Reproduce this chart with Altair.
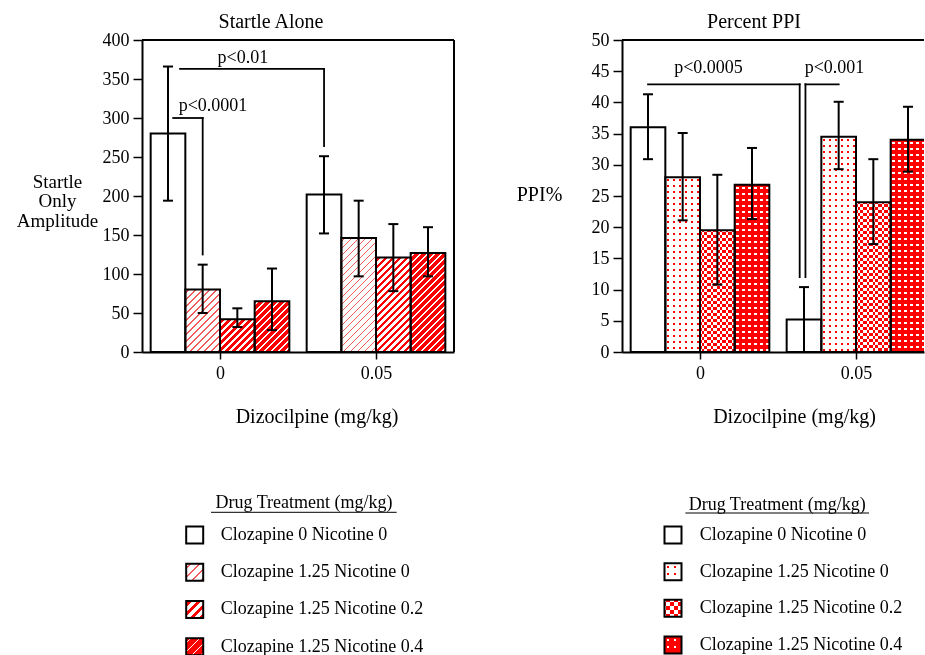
import altair as alt
import pandas as pd

FONT = "Liberation Serif"
RED = "#ff0000"
PINK = "#f25c5c"
WHITE = "#ffffff"
CLEAR = "rgba(255,255,255,0)"
CYAN = "#00ffff"

# ---------------- data ----------------
dose_labels = ["0", "0.05"]
treatments = [
    "Clozapine 0 Nicotine 0",
    "Clozapine 1.25 Nicotine 0",
    "Clozapine 1.25 Nicotine 0.2",
    "Clozapine 1.25 Nicotine 0.4",
]
legend_title = "Drug Treatment (mg/kg)"

# Startle alone (dizocilpine 0 then 0.05; four treatments each)
startle_mean = [280, 80, 42, 65, 202, 146, 121, 127]
startle_upper = [366, 112, 56, 107, 251, 194, 164, 160]
startle_lower = [194, 50, 32, 28, 152, 97, 78, 97]

# Percent PPI
ppi_mean = [36.0, 28.0, 19.5, 26.8, 5.2, 34.5, 24.0, 34.0]
ppi_upper = [41.3, 35.1, 28.4, 32.7, 10.4, 40.1, 30.9, 39.3]
ppi_lower = [30.9, 21.1, 10.8, 21.3, 0.0, 29.3, 17.3, 28.9]

# significance brackets (x in dose-group units, y in data units)
left_br_label = ["p<0.0001", "p<0.01"]
left_br_x_start = [-0.30, -0.256]
left_br_x_end = [-0.111, 0.667]
left_br_y = [300, 363]
left_br_drop_x = [-0.111, 0.667]
left_br_drop_y = [125, 264]
left_br_text_x = [-0.045, 0.147]
left_br_text_y = [315, 377]

right_br_label = ["p<0.0005", "p<0.001"]
right_br_x_start = [-0.333, 0.676]
right_br_x_end = [0.639, 0.889]
right_br_y = [42.9, 42.9]
right_br_drop_x = [0.639, 0.676]
right_br_drop_y = [12.0, 12.0]
right_br_text_x = [0.0545, 0.862]
right_br_text_y = [45.5, 45.5]

# ---------------- layout constants ----------------
PLOT_H = 312
LEFT_W = 312
RIGHT_W = 302
PX_PER_UNIT = 156.0
BAR_W = 2.0 / 9.0
CAP = 0.032
LEG_H = 175


# ---------------- pattern helpers ----------------
def stops(length, period, on, c_on, c_off, phase=None):
    if phase is None:
        phase = (period - on) / 2.0
    p = phase - period
    segs = []
    while p < length:
        segs.append((p, p + on, c_on))
        segs.append((p + on, p + period, c_off))
        p += period
    out = []
    for a, b, c in segs:
        a2, b2 = max(a, 0.0), min(b, length)
        if b2 <= a2:
            continue
        out.append(alt.GradientStop(offset=round(a2 / length, 4), color=c))
        out.append(alt.GradientStop(offset=round(b2 / length, 4), color=c))
    return out


def diag(w, h, period, on, c_on, c_off):
    k = (w + h) / (w * w + h * h)
    return alt.LinearGradient(gradient="linear", x1=0, y1=0, x2=round(k * w, 5), y2=round(k * h, 5),
                              stops=stops(w + h, period, on, c_on, c_off))


def rows(h, period, on, c_on, c_off):
    return alt.LinearGradient(gradient="linear", x1=0, y1=0, x2=0, y2=1,
                              stops=stops(h, period, on, c_on, c_off))


def cols(w, period, on, c_on, c_off):
    return alt.LinearGradient(gradient="linear", x1=0, y1=0, x2=1, y2=0,
                              stops=stops(w, period, on, c_on, c_off))


def left_pattern(k, w, h, leg=False):
    P = 9.0 if leg else 7.0
    if k == 1:
        return [(diag(w, h, P, 1.8, PINK, WHITE), None)]
    if k == 2:
        return [(diag(w, h, P, P / 2, RED, WHITE), None)]
    if k == 3:
        return [(diag(w, h, P, 1.8, WHITE, RED), None)]
    return []


def right_pattern(k, w, h, leg=False):
    P = 7.0 if leg else 6.0
    if k == 1:
        return [(rows(h, P, 2.0, RED, WHITE), None), (cols(w, P, 2.0, CLEAR, WHITE), None)]
    if k == 2:
        Pc = 8.0 if leg else 6.0
        return [(rows(h, Pc, Pc / 2, RED, WHITE), None), (cols(w, Pc, Pc / 2, CYAN, CLEAR), "difference")]
    if k == 3:
        return [(rows(h, P, 2.5, WHITE, RED), None), (cols(w, P, 2.5, CLEAR, RED), None)]
    return []


# ---------------- builders ----------------
def bar_table(means, lows, highs):
    recs = []
    n = len(treatments)
    for i, m in enumerate(means):
        g, k = divmod(i, n)
        x0 = g - 2 * BAR_W + k * BAR_W
        recs.append({"id": i, "k": k, "treat": treatments[k], "mean": m, "lo": lows[i], "hi": highs[i],
                     "zero": 0, "x": x0, "x2": x0 + BAR_W, "xc": x0 + BAR_W / 2,
                     "cl": x0 + BAR_W / 2 - CAP, "cr": x0 + BAR_W / 2 + CAP})
    return pd.DataFrame(recs)


def x_axis(title_x):
    expr = "[" + ",".join("'" + s + "'" for s in dose_labels) + "][datum.value]"
    return alt.Axis(values=[0, 1], labelExpr=expr, title="Dizocilpine (mg/kg)", titleX=title_x, titleY=64,
                    titleAlign="center", titleBaseline="middle", titleAngle=0, titleFont=FONT, titleFontSize=20,
                    titleFontWeight="normal", titleColor="black", labelFont=FONT, labelFontSize=18,
                    labelColor="black", labelPadding=5, tickSize=7, tickWidth=1.5, tickColor="black",
                    domainColor="black", domainWidth=2, grid=False)


def y_axis(values, title, tx, ty, tsize):
    return alt.Axis(values=values, title=title, titleAngle=0, titleAlign="center", titleBaseline="middle",
                    titleX=tx, titleY=ty, titleFont=FONT, titleFontSize=tsize, titleFontWeight="normal",
                    titleColor="black", titleLineHeight=19.5, labelFont=FONT, labelFontSize=18,
                    labelColor="black", labelPadding=4, tickSize=9, tickWidth=1.5, tickColor="black",
                    domainColor="black", domainWidth=2, grid=False)


def panel(df, ymax, yvals, ytitle, ytx, yty, tsize, width, title, tdx, xtx, pattern_fn, br, right_border):
    xs = alt.Scale(domain=[-0.5, -0.5 + width / PX_PER_UNIT], nice=False, zero=False)
    ys = alt.Scale(domain=[0, ymax], nice=False, zero=False)
    xax = x_axis(xtx)
    yax = y_axis(yvals, ytitle, ytx, yty, tsize)

    def X(f):
        return alt.X(f, type="quantitative", scale=xs, axis=xax)

    def Y(f):
        return alt.Y(f, type="quantitative", scale=ys, axis=yax)

    base = alt.Chart(df)
    layers = []
    w_px = BAR_W * PX_PER_UNIT
    x_max = -0.5 + width / PX_PER_UNIT
    for _, r in df.iterrows():
        h_px = r["mean"] / ymax * PLOT_H
        needs_clip = r["x2"] > x_max
        for grad, blend in pattern_fn(int(r["k"]), w_px, h_px):
            kw = dict(fill=grad, strokeWidth=0)
            if needs_clip:
                kw["clip"] = True
            if blend:
                kw["blend"] = blend
            layers.append(base.transform_filter(alt.datum.id == int(r["id"])).mark_bar(**kw)
                          .encode(x=X("x"), x2="x2", y=Y("mean"), y2="zero"))
    layers.append(base.mark_bar(fill="transparent", stroke="black", strokeWidth=2, clip=True)
                  .encode(x=X("x"), x2="x2", y=Y("mean"), y2="zero"))
    layers.append(base.mark_rule(color="black", strokeWidth=2).encode(x=X("xc"), y=Y("lo"), y2="hi"))
    layers.append(base.mark_rule(color="black", strokeWidth=2).encode(x=X("cl"), x2="cr", y=Y("lo")))
    layers.append(base.mark_rule(color="black", strokeWidth=2).encode(x=X("cl"), x2="cr", y=Y("hi")))

    bb = alt.Chart(pd.DataFrame(br))
    layers.append(bb.mark_rule(color="black", strokeWidth=1.8, strokeCap="square")
                  .encode(x=X("xs"), x2="xe", y=Y("y")))
    layers.append(bb.mark_rule(color="black", strokeWidth=1.8, strokeCap="square")
                  .encode(x=X("dx"), y=Y("y"), y2="dy"))
    layers.append(bb.mark_text(font=FONT, fontSize=18, color="black", align="center", baseline="middle")
                  .encode(x=X("tx"), y=Y("ty"), text="label:N"))

    fr = alt.Chart(pd.DataFrame({"f": [0]}))
    layers.append(fr.mark_rule(color="black", strokeWidth=2)
                  .encode(x=alt.value(0), x2=alt.value(width), y=alt.value(0)))
    if right_border:
        layers.append(fr.mark_rule(color="black", strokeWidth=2)
                      .encode(x=alt.value(width), y=alt.value(0), y2=alt.value(PLOT_H)))

    return alt.layer(*layers).properties(
        width=width, height=PLOT_H,
        title=alt.TitleParams(text=title, font=FONT, fontSize=20, fontWeight="normal", color="black",
                              anchor="middle", dx=tdx, offset=-17, baseline="alphabetic"))


def legend(width, sq_x, txt_x, title_x, title_y, ul_x1, ul_x2, ul_y, yrange, pattern_fn):
    ldf = pd.DataFrame({"treat": treatments, "k": list(range(len(treatments)))})
    ysc = alt.Scale(type="point", domain=treatments, range=yrange, padding=0)
    Y = alt.Y("treat:N", scale=ysc, axis=None)
    layers = []
    for k in range(len(treatments)):
        for grad, blend in pattern_fn(k, 17.0, 17.0, leg=True):
            kw = dict(fill=grad, size=289, opacity=1, strokeWidth=0)
            if blend:
                kw["blend"] = blend
            layers.append(alt.Chart(ldf).transform_filter(alt.datum.k == k).mark_square(**kw)
                          .encode(x=alt.value(sq_x), y=Y))
    layers.append(alt.Chart(ldf).mark_square(size=289, fill="transparent", stroke="black", strokeWidth=2,
                                             opacity=1).encode(x=alt.value(sq_x), y=Y))
    layers.append(alt.Chart(ldf).mark_text(font=FONT, fontSize=18, align="left", baseline="middle",
                                           color="black", clip=True)
                  .encode(x=alt.value(txt_x), y=Y, text="treat:N"))
    tdf = pd.DataFrame({"t": [legend_title]})
    layers.append(alt.Chart(tdf).mark_text(font=FONT, fontSize=18, align="center", baseline="middle",
                                           color="black")
                  .encode(x=alt.value(title_x), y=alt.value(title_y), text="t:N"))
    layers.append(alt.Chart(tdf).mark_rule(color="black", strokeWidth=1)
                  .encode(x=alt.value(ul_x1), x2=alt.value(ul_x2), y=alt.value(ul_y)))
    return alt.layer(*layers).properties(width=width, height=LEG_H)


left_df = bar_table(startle_mean, startle_lower, startle_upper)
right_df = bar_table(ppi_mean, ppi_lower, ppi_upper)

left_br = {"label": left_br_label, "xs": left_br_x_start, "xe": left_br_x_end, "y": left_br_y,
           "dx": left_br_drop_x, "dy": left_br_drop_y, "tx": left_br_text_x, "ty": left_br_text_y}
right_br = {"label": right_br_label, "xs": right_br_x_start, "xe": right_br_x_end, "y": right_br_y,
            "dx": right_br_drop_x, "dy": right_br_drop_y, "tx": right_br_text_x, "ty": right_br_text_y}

left = panel(left_df, 400, list(range(0, 401, 50)), ["Startle", "Only", "Amplitude"], -85, 141, 19,
             LEFT_W, "Startle Alone", -27, 174.5, left_pattern, left_br, True)
right = panel(right_df, 50, list(range(0, 51, 5)), "PPI%", -83, 154, 20,
              RIGHT_W, "Percent PPI", -19, 172, right_pattern, right_br, False)

legL = legend(LEFT_W, 52.7, 78.7, 162, 23, 69, 254.7, 32.3, [55, 166.7], left_pattern)
legR = legend(RIGHT_W, 51, 77.7, 155.2, 25, 63.4, 247, 33, [55, 165], right_pattern)

chart = alt.concat(
    left, right, legL, legR,
    columns=2, spacing={"row": 128, "column": 168}, bounds="flush",
).properties(
    padding={"left": 16, "top": 12, "right": 0, "bottom": 0}
).configure(
    background="white",
    view=alt.ViewConfig(stroke="transparent", strokeWidth=0),
)

chart.save("out.html", embed_options={"renderer": "svg", "actions": False})
